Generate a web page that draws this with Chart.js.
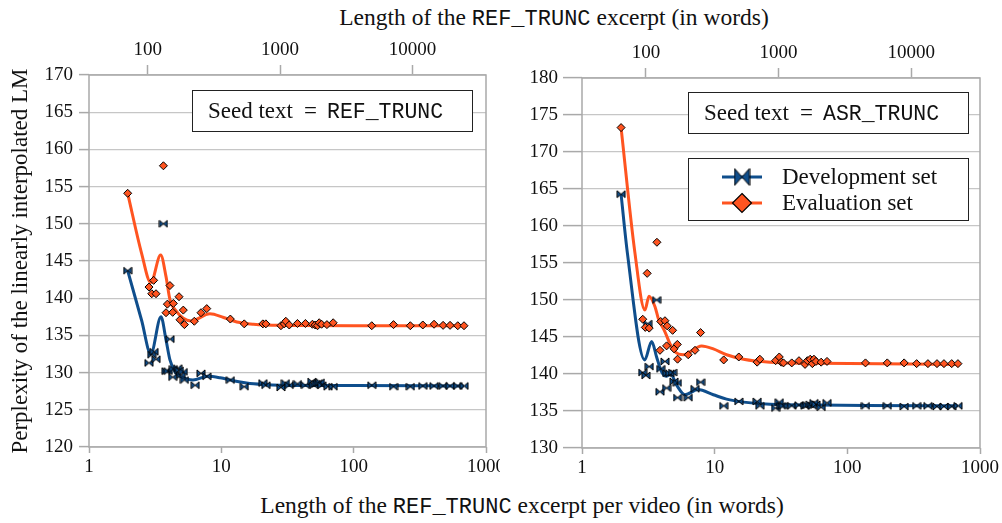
<!DOCTYPE html>
<html>
<head>
<meta charset="utf-8">
<script src="https://cdn.jsdelivr.net/npm/chart.js@4.4.1/dist/chart.umd.min.js"></script>
<style>
  body { margin: 0; background: #fff; width: 1002px; height: 523px; position: relative; overflow: hidden;
         font-family: "Liberation Serif", serif; color: #111; }
  canvas { position: absolute; top: 0; }
  #left { left: 0; }
  #right { left: 500px; }
  .title { position: absolute; font-size: 23.5px; line-height: 28px; white-space: nowrap; transform: translateX(-50%); }
  .title code { font-family: "Liberation Mono", monospace; font-size: 22px; }
</style>
</head>
<body>
<div class="title" style="left:554px; top:3px;">Length of the <code>REF_TRUNC</code> excerpt (in words)</div>
<div class="title" style="left:522px; top:491px;">Length of the <code>REF_TRUNC</code> excerpt per video (in words)</div>
<canvas id="left" width="500" height="523"></canvas>
<canvas id="right" width="502" height="523"></canvas>
<script>
const devLabel = 'Development set';
const evalLabel = 'Evaluation set';
const videoTicks = [1, 10, 100, 1000];
const wordTicks = [100, 1000, 10000];

// left panel: seed text = REF_TRUNC
const refDevX = [1.96, 2.84, 2.98, 3.10, 3.21, 3.65, 3.82, 3.97, 4.09, 4.29, 4.34, 4.68, 4.82, 4.98, 5.16, 5.26, 6.34, 7.02, 7.76, 11.7, 14.9, 20.6, 21.7, 28.2, 30.5, 32.6, 37.6, 43.2, 48.3, 50, 52, 54, 56, 57.5, 64, 70, 137, 200, 268, 333, 405, 474, 535, 612, 682];
const refDevY = [143.7, 131.3, 132.4, 132.8, 131.8, 150.0, 130.2, 130.2, 134.5, 129.4, 130.5, 130.6, 130.3, 129.7, 130.1, 129.0, 128.3, 129.9, 129.5, 129.0, 128.1, 128.6, 128.3, 128.0, 128.6, 128.3, 128.5, 128.3, 128.8, 128.3, 128.5, 128.6, 128.7, 128.3, 128.1, 128.1, 128.3, 128.1, 128.1, 128.2, 128.2, 128.2, 128.2, 128.2, 128.2];
const refEvalX = [1.96, 2.84, 2.98, 3.08, 3.21, 3.65, 3.82, 3.91, 4.09, 4.29, 4.34, 4.79, 4.87, 5.16, 5.26, 6.25, 7.02, 7.76, 11.7, 14.9, 20.6, 21.7, 28.2, 29.9, 30.7, 32.6, 37.6, 43.2, 48.8, 51.2, 53.3, 54.9, 57.2, 62.8, 70, 137, 200, 268, 333, 405, 474, 535, 612, 682];
const refEvalY = [154.1, 141.5, 140.6, 142.4, 140.6, 157.8, 138.05, 139.2, 141.7, 138.1, 139.3, 140.2, 137.1, 138.4, 136.45, 136.9, 138.05, 138.6, 137.2, 136.55, 136.55, 136.55, 136.3, 136.55, 136.9, 136.4, 136.6, 136.6, 136.5, 136.4, 136.3, 136.7, 136.5, 136.45, 136.7, 136.3, 136.45, 136.3, 136.4, 136.5, 136.35, 136.35, 136.3, 136.3];
const refDevFitX = [1.96, 2.5, 2.93, 3.5, 3.82, 4.09, 4.47, 4.87, 5.47, 6.1, 7.9, 9.8, 12.3, 15.5, 20.8, 27.8, 100, 682];
const refDevFitY = [143.7, 137.0, 132.5, 137.5, 134.4, 131.7, 130.1, 129.5, 129.15, 129.0, 129.5, 129.3, 128.9, 128.6, 128.4, 128.3, 128.25, 128.2];
const refEvalFitX = [1.96, 2.5, 2.93, 3.48, 3.82, 4.09, 4.6, 5.16, 5.9, 8.2, 10.4, 13.1, 17.5, 27.8, 100, 682];
const refEvalFitY = [154.1, 146.0, 142.1, 145.8, 142.9, 139.8, 138.2, 137.3, 136.95, 137.9, 137.4, 136.8, 136.5, 136.35, 136.3, 136.3];

// right panel: seed text = ASR_TRUNC
const asrDevX = [1.97, 2.87, 3.03, 3.13, 3.21, 3.65, 3.87, 3.92, 4.22, 4.34, 4.39, 4.6, 4.82, 4.94, 5.23, 5.25, 6.32, 7.11, 7.83, 11.7, 15.2, 20.9, 21.9, 28.8, 30.7, 31.8, 33.0, 38.1, 43.2, 48, 50, 52.5, 54.5, 56, 58, 63.5, 70.3, 137, 200, 268, 333, 405, 474, 535, 612, 682];
const asrDevY = [164.3, 140.2, 139.8, 146.8, 141.0, 150.0, 137.6, 140.7, 141.7, 138.1, 140.1, 140.1, 140.2, 139.0, 138.8, 136.8, 136.8, 138.0, 138.9, 135.7, 136.3, 136.3, 135.7, 135.4, 136.2, 135.7, 135.7, 135.7, 135.8, 135.7, 135.8, 135.9, 135.7, 136.1, 135.9, 135.5, 136.1, 135.7, 135.7, 135.6, 135.7, 135.7, 135.6, 135.6, 135.6, 135.7];
const asrEvalX = [1.97, 2.87, 3.00, 3.10, 3.21, 3.67, 3.87, 3.92, 4.22, 4.34, 4.39, 4.82, 4.94, 5.23, 5.25, 6.32, 7.11, 7.83, 11.7, 15.2, 20.9, 21.9, 28.8, 30.7, 31.8, 33.0, 38.1, 43.2, 48, 50, 52.5, 54.5, 56, 58, 63.5, 70.3, 137, 200, 268, 333, 405, 474, 535, 612, 682];
const asrEvalY = [173.3, 147.4, 146.3, 153.6, 146.2, 157.8, 143.2, 147.1, 147.2, 143.8, 146.5, 145.9, 143.4, 144.0, 142.0, 142.6, 143.2, 145.6, 141.9, 142.3, 141.6, 142.0, 141.8, 142.3, 141.6, 141.5, 141.5, 141.8, 141.3, 141.8, 142.0, 141.4, 142.0, 141.7, 141.6, 141.7, 141.5, 141.5, 141.5, 141.4, 141.4, 141.4, 141.4, 141.4, 141.4];
const asrDevFitX = [1.97, 2.2, 2.97, 3.35, 3.65, 3.98, 4.35, 4.66, 5.17, 5.97, 7.5, 9.77, 12.3, 16.5, 26.1, 60, 137, 682];
const asrDevFitY = [164.3, 156.3, 141.9, 144.4, 142.3, 140.3, 139.7, 140.0, 138.5, 137.2, 137.9, 137.2, 136.6, 136.2, 135.9, 135.8, 135.75, 135.7];
const asrEvalFitX = [1.97, 2.5, 2.98, 3.2, 3.55, 3.76, 4.22, 4.6, 5.02, 5.8, 7.98, 9.77, 12.3, 16.5, 26.1, 60, 682];
const asrEvalFitY = [173.3, 156.5, 148.65, 150.5, 149.1, 147.5, 145.7, 144.1, 143.0, 142.6, 143.8, 143.4, 142.6, 142.0, 141.6, 141.45, 141.3];

const blue = '#0f4e8c';
const orange = '#ff5420';
const gridGray = '#c6c6c6';
const axisGray = '#a9a9a9';
const serif = '"Liberation Serif", serif';
const mono = '"Liberation Mono", monospace';

function pts(xs, ys) {
  return xs.map((x, i) => ({ x: x, y: ys[i] }));
}

// two triangles meeting at their tips
function bowtie(w, h) {
  const c = document.createElement('canvas');
  c.width = w + 2;
  c.height = h + 2;
  const g = c.getContext('2d');
  g.translate(1, 1);
  g.beginPath();
  g.moveTo(0, 0); g.lineTo(w / 2, h / 2); g.lineTo(0, h); g.closePath();
  g.moveTo(w, 0); g.lineTo(w / 2, h / 2); g.lineTo(w, h); g.closePath();
  g.fillStyle = blue;
  g.fill();
  g.lineWidth = 1;
  g.strokeStyle = '#000';
  g.stroke();
  return c;
}
const smallBowtie = bowtie(8, 7);
const bigBowtie = bowtie(15, 17);

function seedBox(ctx, x, y, w, h, seed) {
  ctx.fillStyle = '#fff';
  ctx.fillRect(x, y, w, h);
  ctx.strokeStyle = '#222';
  ctx.lineWidth = 1;
  ctx.strokeRect(x + 0.5, y + 0.5, w, h);
  ctx.fillStyle = '#111';
  ctx.textBaseline = 'alphabetic';
  ctx.textAlign = 'left';
  ctx.font = '23px ' + serif;
  ctx.fillText('Seed text', x + 16, y + 28);
  ctx.fillText('=', x + 112, y + 28);
  ctx.font = '21.5px ' + mono;
  ctx.fillText(seed, x + 135, y + 28);
}

const decor = {
  id: 'decor',
  beforeDatasetsDraw(chart, args, opts) {
    const ctx = chart.ctx;
    const a = chart.chartArea;
    ctx.save();
    ctx.strokeStyle = axisGray;
    ctx.lineWidth = 1.5;
    ctx.strokeRect(a.left, a.top, a.right - a.left, a.bottom - a.top);
    seedBox(ctx, a.right - opts.boxRight - 280, a.top + opts.boxTop, 280, 41, opts.seed);
    if (opts.legend) {
      const x = a.right - opts.boxRight - 280;
      const y = a.top + 80;
      ctx.fillStyle = '#fff';
      ctx.fillRect(x, y, 280, 62);
      ctx.strokeStyle = '#222';
      ctx.lineWidth = 1;
      ctx.strokeRect(x + 0.5, y + 0.5, 280, 62);
      const rows = [[devLabel, blue, y + 19], [evalLabel, orange, y + 45]];
      rows.forEach(([label, color, ry], i) => {
        ctx.strokeStyle = color;
        ctx.lineWidth = 3;
        ctx.beginPath();
        ctx.moveTo(x + 34, ry);
        ctx.lineTo(x + 74, ry);
        ctx.stroke();
        if (i === 0) {
          ctx.drawImage(bigBowtie, x + 54 - bigBowtie.width / 2, ry - bigBowtie.height / 2);
        } else {
          ctx.beginPath();
          ctx.moveTo(x + 54, ry - 9.5); ctx.lineTo(x + 63.5, ry);
          ctx.lineTo(x + 54, ry + 9.5); ctx.lineTo(x + 44.5, ry);
          ctx.closePath();
          ctx.fillStyle = orange;
          ctx.fill();
          ctx.strokeStyle = '#000';
          ctx.lineWidth = 1.2;
          ctx.stroke();
        }
        ctx.fillStyle = '#111';
        ctx.font = '23px ' + serif;
        ctx.textBaseline = 'middle';
        ctx.fillText(label, x + 94, ry + 1);
      });
    }
    ctx.restore();
  }
};

const tickFont = { family: serif, size: 19 };

function makeChart(id, p) {
  return new Chart(document.getElementById(id), {
    type: 'scatter',
    data: {
      datasets: [
        { label: devLabel, data: pts(p.devFitX, p.devFitY), showLine: true, cubicInterpolationMode: 'monotone',
          borderColor: blue, borderWidth: 3, pointRadius: 0, order: 4 },
        { label: evalLabel, data: pts(p.evalFitX, p.evalFitY), showLine: true, cubicInterpolationMode: 'monotone',
          borderColor: orange, borderWidth: 3, pointRadius: 0, order: 3 },
        { label: devLabel, data: pts(p.devX, p.devY), pointStyle: smallBowtie, pointRadius: 4, order: 2 },
        { label: evalLabel, data: pts(p.evalX, p.evalY), pointStyle: 'rectRot', pointRadius: 4,
          backgroundColor: orange, borderColor: '#000', borderWidth: 1, order: 1 }
      ]
    },
    options: {
      responsive: false,
      animation: false,
      layout: { padding: { left: 0, right: p.padRight, top: 0, bottom: 0 } },
      plugins: {
        legend: { display: false },
        tooltip: { enabled: false },
        decor: { seed: p.seed, boxRight: p.boxRight, boxTop: p.boxTop, legend: p.legend }
      },
      scales: {
        x: {
          type: 'logarithmic', position: 'bottom', min: 1, max: 1000,
          afterBuildTicks: s => { s.ticks = videoTicks.map(v => ({ value: v })); },
          afterFit: s => { s.height = p.bottomH; s.paddingLeft = 0; s.paddingRight = 0; },
          ticks: { callback: v => String(v), font: tickFont, color: '#111', padding: 3, maxRotation: 0, autoSkip: false },
          grid: { drawOnChartArea: false, tickLength: 6, tickColor: axisGray, tickWidth: 1.5 },
          border: { display: false }
        },
        x2: {
          type: 'logarithmic', position: 'top', min: p.wordMin, max: p.wordMin * 1000,
          afterBuildTicks: s => { s.ticks = wordTicks.map(v => ({ value: v })); },
          afterFit: s => { s.height = p.topH; s.paddingLeft = 0; s.paddingRight = 0; },
          ticks: { callback: v => String(v), font: tickFont, color: '#111', padding: 4, maxRotation: 0, autoSkip: false },
          grid: { drawOnChartArea: false, tickLength: 10, tickColor: axisGray, tickWidth: 1.5 },
          border: { display: false }
        },
        y: {
          min: p.yMin, max: p.yMax,
          afterFit: s => { s.width = p.axisW; s.paddingTop = 0; s.paddingBottom = 0; },
          ticks: { stepSize: 5, font: tickFont, color: '#111', padding: p.yPad },
          grid: { color: gridGray, lineWidth: 1.2, tickLength: p.yTick, tickColor: axisGray, tickWidth: 1.5 },
          border: { display: false },
          title: { display: !!p.yTitle, text: p.yTitle, font: { family: serif, size: 23 }, color: '#111', padding: { top: 7, bottom: 0 } }
        }
      }
    },
    plugins: [decor]
  });
}

makeChart('left', {
  devX: refDevX, devY: refDevY, evalX: refEvalX, evalY: refEvalY,
  devFitX: refDevFitX, devFitY: refDevFitY, evalFitX: refEvalFitX, evalFitY: refEvalFitY,
  yMin: 120, yMax: 170, wordMin: 36, seed: 'REF_TRUNC', legend: false,
  yTitle: 'Perplexity of the linearly interpolated LM',
  axisW: 89, padRight: 14, topH: 75, bottomH: 76, yTick: 10, yPad: 6, boxRight: 14, boxTop: 15
});
makeChart('right', {
  devX: asrDevX, devY: asrDevY, evalX: asrEvalX, evalY: asrEvalY,
  devFitX: asrDevFitX, devFitY: asrDevFitY, evalFitX: asrEvalFitX, evalFitY: asrEvalFitY,
  yMin: 130, yMax: 180, wordMin: 33, seed: 'ASR_TRUNC', legend: true,
  yTitle: '',
  axisW: 82, padRight: 22, topH: 78, bottomH: 75, yTick: 19, yPad: 5, boxRight: 12, boxTop: 14
});
</script>
</body>
</html>
